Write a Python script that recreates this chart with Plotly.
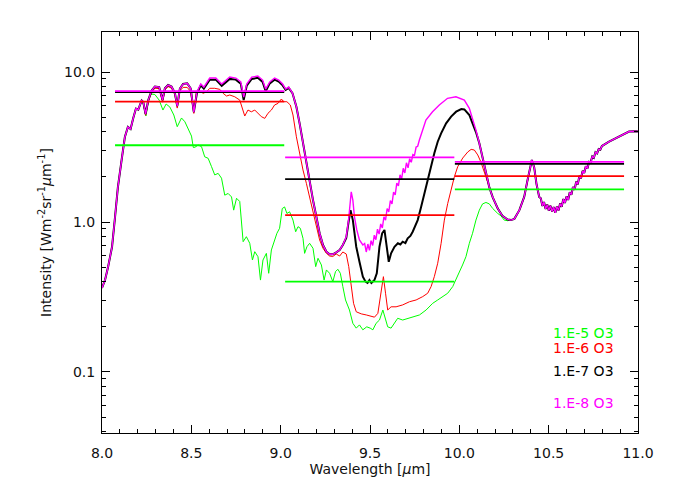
import plotly.graph_objects as go

# ---------------- data (wavelength in micron, intensity in W m-2 sr-1 um-1) ----------------
RISE_WL = [8.000, 8.017, 8.034, 8.056, 8.073, 8.089, 8.112, 8.128, 8.145, 8.160, 8.175, 8.190, 8.203]
RISE_INT = [0.363, 0.410, 0.501, 0.681, 1.08, 1.71, 2.71, 3.69, 4.30, 4.17, 4.94, 5.71, 5.62]

TOP_WL = [8.222, 8.231, 8.244, 8.259, 8.278, 8.296, 8.320, 8.339, 8.352, 8.370,
          8.389, 8.408, 8.421, 8.436, 8.454, 8.477, 8.496, 8.514, 8.531, 8.553,
          8.570, 8.603, 8.637, 8.670, 8.715, 8.749, 8.777, 8.793, 8.810, 8.838,
          8.872, 8.899, 8.916, 8.939, 8.966, 8.989, 9.011, 9.028, 9.045]
MAG_TOP_INT = [6.46, 6.31, 5.25, 6.50, 7.53, 8.00, 7.94, 6.50, 7.79, 8.19,
               8.00, 7.24, 5.93, 7.76, 8.32, 8.41, 7.79, 5.41, 7.36, 8.32,
               7.94, 9.12, 9.12, 8.32, 9.26, 9.12, 8.58, 6.81, 8.32, 9.26,
               9.40, 8.84, 7.70, 8.58, 9.12, 8.84, 8.32, 7.70, 7.94]
BLK_TOP_INT = [6.46, 6.31, 5.25, 6.50, 7.53, 8.00, 7.94, 6.50, 7.79, 8.19,
               8.00, 7.24, 5.93, 7.76, 8.32, 8.41, 7.79, 5.41, 7.20, 8.15,
               7.75, 8.90, 8.90, 8.10, 9.00, 8.90, 8.35, 6.50, 8.10, 9.00,
               9.15, 8.60, 7.45, 8.40, 8.90, 8.65, 8.15, 7.60, 7.85]

DESC_WL = [9.066, 9.088, 9.106, 9.125, 9.144, 9.162, 9.181, 9.200, 9.218, 9.237,
           9.256, 9.274, 9.292, 9.311, 9.330, 9.348]
DESC_INT = [7.24, 5.87, 4.55, 3.35, 2.46, 1.91, 1.40, 1.08, 0.841, 0.703,
            0.634, 0.609, 0.609, 0.628, 0.651, 0.703]

MAG_MID_WL = [9.367, 9.380, 9.389, 9.395, 9.404, 9.413, 9.426, 9.441, 9.460,
              9.470, 9.479, 9.488, 9.497, 9.506, 9.515, 9.524, 9.533, 9.542, 9.551,
              9.560, 9.569, 9.578, 9.587, 9.596, 9.605, 9.614, 9.623, 9.632, 9.641,
              9.650, 9.659, 9.668, 9.677, 9.686, 9.695, 9.704, 9.713, 9.722, 9.731,
              9.740, 9.749, 9.758, 9.767, 9.776,
              9.813, 9.850, 9.888, 9.934, 9.981, 10.009, 10.028, 10.056, 10.074, 10.093]
MAG_MID_INT = [0.798, 1.03, 1.33, 1.59, 1.40, 1.08, 0.885, 0.759, 0.703,
               0.719, 0.631, 0.713, 0.647, 0.750, 0.697, 0.817, 0.762, 0.895, 0.830,
               0.971, 0.912, 1.084, 1.028, 1.230, 1.169, 1.390, 1.318, 1.585, 1.514,
               1.820, 1.738, 2.065, 1.936, 2.280, 2.123, 2.483, 2.296, 2.642, 2.500,
               2.818, 2.786, 3.162, 3.199, 3.51,
               4.79, 5.43, 6.03, 6.68, 6.84, 6.68, 6.50, 5.73, 4.91, 4.10]

BLK_MID_WL = [9.367, 9.380, 9.391, 9.404, 9.423, 9.441, 9.460, 9.475, 9.486, 9.497,
              9.508, 9.525, 9.538, 9.553, 9.568, 9.581, 9.594, 9.605, 9.618, 9.637,
              9.656, 9.670, 9.683, 9.698, 9.711, 9.726, 9.739, 9.767, 9.786, 9.804,
              9.823, 9.842, 9.860, 9.879, 9.898, 9.926, 9.954, 9.982, 10.011, 10.028,
              10.056, 10.074, 10.093]
BLK_MID_INT = [0.782, 1.00, 1.20, 1.03, 0.684, 0.543, 0.432, 0.400, 0.392, 0.410,
               0.392, 0.410, 0.455, 0.684, 0.841, 0.885, 0.684, 0.543, 0.618, 0.684,
               0.721, 0.708, 0.739, 0.724, 0.778, 0.807, 0.861, 1.03, 1.26, 1.55,
               1.91, 2.34, 2.87, 3.43, 3.90, 4.55, 5.04, 5.44, 5.67, 5.63,
               5.17, 4.55, 3.98]

TAIL_WL = [10.112, 10.130, 10.149, 10.168, 10.187, 10.215, 10.241, 10.270, 10.289, 10.308,
           10.336, 10.363, 10.382, 10.397, 10.406, 10.419, 10.432, 10.447, 10.456, 10.465,
           10.474, 10.483, 10.492, 10.501, 10.510, 10.519, 10.528, 10.537, 10.546, 10.555,
           10.564, 10.573, 10.582, 10.591, 10.600, 10.609, 10.618, 10.627, 10.636, 10.645,
           10.654, 10.663, 10.672, 10.681, 10.690, 10.699, 10.708, 10.717, 10.726, 10.735,
           10.744, 10.753, 10.762, 10.771, 10.780, 10.789, 10.798, 10.838, 10.876, 10.913,
           10.950, 10.987, 11.000]
TAIL_INT = [3.35, 2.67, 2.09, 1.70, 1.46, 1.23, 1.10, 1.04, 1.03, 1.05,
            1.20, 1.47, 1.91, 2.34, 2.59, 2.31, 1.79, 1.47, 1.439, 1.279,
            1.358, 1.222, 1.306, 1.191, 1.285, 1.175, 1.259, 1.153, 1.268, 1.194,
            1.327, 1.265, 1.422, 1.340, 1.479, 1.403, 1.578, 1.521, 1.710, 1.641,
            1.854, 1.786, 2.032, 1.959, 2.193, 2.123, 2.355, 2.275, 2.523, 2.500,
            2.735, 2.679, 2.917, 2.864, 3.062, 3.034, 3.21, 3.43, 3.63, 3.83,
            4.01, 4.03, 4.01]

RED_WL = [8.222, 8.231, 8.244, 8.259, 8.278, 8.296, 8.320, 8.339, 8.352, 8.370,
          8.389, 8.408, 8.421, 8.436, 8.454, 8.477, 8.496, 8.514,
          8.528, 8.547, 8.566, 8.585, 8.603, 8.631, 8.659, 8.678, 8.697, 8.715,
          8.743, 8.771, 8.786, 8.799, 8.817, 8.836, 8.855, 8.873, 8.892, 8.911,
          8.929, 8.948, 8.966, 8.985, 9.004, 9.017, 9.035, 9.054, 9.069, 9.088,
          9.106, 9.125, 9.144, 9.162, 9.181, 9.200, 9.218, 9.237, 9.256, 9.274,
          9.292, 9.311, 9.330, 9.348, 9.367, 9.381, 9.395, 9.408, 9.423, 9.451,
          9.479, 9.507, 9.525, 9.544, 9.563, 9.575, 9.587, 9.599, 9.618, 9.646,
          9.683, 9.721, 9.758, 9.795, 9.823, 9.842, 9.860, 9.879, 9.898, 9.916,
          9.935, 9.954, 9.972, 9.991, 10.019, 10.047, 10.066, 10.084, 10.103, 10.121,
          10.140, 10.154]
RED_INT = [6.40, 6.20, 5.15, 6.35, 7.35, 7.80, 7.75, 6.30, 7.60, 8.00,
           7.80, 7.05, 5.75, 7.50, 7.90, 7.90, 7.40, 5.30,
           7.36, 7.50, 7.21, 7.39, 7.79, 7.79, 7.67, 7.21, 6.92, 7.03,
           6.84, 6.50, 5.58, 5.09, 5.58, 5.43, 5.58, 5.31, 5.04, 4.91,
           5.31, 5.58, 6.03, 6.18, 6.61, 6.34, 6.34, 6.03, 5.17, 3.70,
           2.87, 2.22, 1.81, 1.47, 1.14, 0.931, 0.759, 0.668, 0.618, 0.593,
           0.589, 0.612, 0.593, 0.631, 0.612, 0.504, 0.371, 0.287, 0.252, 0.244,
           0.240, 0.234, 0.232, 0.246, 0.335, 0.432, 0.335, 0.259, 0.272, 0.272,
           0.280, 0.294, 0.302, 0.318, 0.335, 0.371, 0.432, 0.531, 0.721, 1.03,
           1.33, 1.63, 2.00, 2.34, 2.67, 2.93, 3.05, 3.02, 2.80, 2.51,
           2.15, 1.89]

GRN_WL = [8.222, 8.231, 8.246, 8.264, 8.279, 8.296, 8.320, 8.341, 8.359, 8.380,
          8.402, 8.421, 8.445, 8.464, 8.482, 8.501, 8.511, 8.520, 8.538, 8.557,
          8.575, 8.594, 8.613, 8.631, 8.650, 8.669, 8.687, 8.706, 8.725, 8.737,
          8.753, 8.771, 8.790, 8.808, 8.827, 8.842, 8.855, 8.873, 8.887, 8.901,
          8.920, 8.933, 8.948, 8.966, 8.979, 8.994, 9.009, 9.022, 9.035, 9.050,
          9.069, 9.084, 9.097, 9.110, 9.125, 9.134, 9.147, 9.162, 9.181, 9.196,
          9.209, 9.228, 9.243, 9.256, 9.274, 9.292, 9.307, 9.320, 9.334, 9.348,
          9.363, 9.385, 9.404, 9.423, 9.441, 9.460, 9.482, 9.501, 9.516, 9.534,
          9.553, 9.572, 9.587, 9.599, 9.618, 9.637, 9.655, 9.683, 9.711, 9.739,
          9.777, 9.814, 9.851, 9.879, 9.907, 9.935, 9.963, 9.982, 10.000, 10.018,
          10.037, 10.056, 10.074, 10.093, 10.112, 10.130, 10.149, 10.168, 10.187, 10.215,
          10.233, 10.251, 10.270]
GRN_INT = [6.41, 6.12, 5.09, 6.81, 7.13, 7.08, 6.50, 5.58, 6.12, 5.84,
           5.17, 4.32, 4.94, 4.66, 4.22, 3.74, 3.14, 3.15, 3.26, 3.18,
           2.72, 2.66, 2.34, 2.06, 2.11, 1.96, 1.51, 1.55, 1.47, 1.20,
           1.44, 1.37, 0.739, 0.798, 0.721, 0.558, 0.634, 0.587, 0.410, 0.558,
           0.618, 0.455, 0.651, 0.759, 0.841, 0.908, 1.23, 1.26, 1.14, 1.17,
           1.03, 0.861, 0.931, 0.908, 0.778, 0.618, 0.684, 0.721, 0.668, 0.504,
           0.573, 0.517, 0.410, 0.479, 0.455, 0.400, 0.467, 0.484, 0.455, 0.371,
           0.302, 0.259, 0.211, 0.196, 0.206, 0.191, 0.200, 0.196, 0.191, 0.211,
           0.222, 0.259, 0.222, 0.200, 0.196, 0.211, 0.228, 0.222, 0.228, 0.234,
           0.240, 0.259, 0.287, 0.302, 0.318, 0.335, 0.371, 0.422, 0.464, 0.517,
           0.587, 0.721, 0.841, 1.03, 1.20, 1.32, 1.35, 1.32, 1.23, 1.14,
           1.10, 1.03, 1.02]

# band-averaged intensities
BAND_START = [8.073, 9.025, 9.975]
BAND_END = [9.020, 9.972, 10.922]
BAND_G = [3.25, 0.40, 1.65]
BAND_R = [6.34, 1.11, 2.02]
BAND_K = [7.36, 1.93, 2.44]
BAND_M = [7.47, 2.70, 2.52]

LABELS = ["1.E-5 O3", "1.E-6 O3", "1.E-7 O3", "1.E-8 O3"]
COLORS = ["#00ff00", "#ff0000", "#000000", "#ff00ff"]

X_TICKS = [8.0, 8.5, 9.0, 9.5, 10.0, 10.5, 11.0]
X_TICKTEXT = ["8.0", "8.5", "9.0", "9.5", "10.0", "10.5", "11.0"]
Y_TICKS = [0.1, 1.0, 10.0]
Y_TICKTEXT = ["0.1", "1.0", "10.0"]
Y_MINOR = [0.04, 0.05, 0.06, 0.07, 0.08, 0.09,
           0.2, 0.3, 0.4, 0.5, 0.6, 0.7, 0.8, 0.9,
           2, 3, 4, 5, 6, 7, 8, 9]

# ---------------- assemble spectra from shared segments ----------------
def tail_from(start):
    pairs = [(w, v) for w, v in zip(TAIL_WL, TAIL_INT) if w >= start - 1e-9]
    return [p[0] for p in pairs], [p[1] for p in pairs]

mag_x = RISE_WL + TOP_WL + DESC_WL + MAG_MID_WL + TAIL_WL
mag_y = RISE_INT + MAG_TOP_INT + DESC_INT + MAG_MID_INT + TAIL_INT
blk_x = RISE_WL + TOP_WL + DESC_WL + BLK_MID_WL + TAIL_WL
blk_y = RISE_INT + BLK_TOP_INT + DESC_INT + BLK_MID_INT + TAIL_INT
tx, ty = tail_from(10.168)
red_x = RISE_WL + RED_WL + tx
red_y = RISE_INT + RED_INT + ty
tx, ty = tail_from(10.289)
grn_x = RISE_WL + GRN_WL + tx
grn_y = RISE_INT + GRN_INT + ty

fig = go.Figure()

series = [(grn_x, grn_y, BAND_G, 1.0), (red_x, red_y, BAND_R, 1.0),
          (blk_x, blk_y, BAND_K, 2.0), (mag_x, mag_y, BAND_M, 1.4)]

for (xs, ys, band, w), col in zip(series, COLORS):
    fig.add_trace(go.Scatter(x=xs, y=ys, mode="lines",
                             line=dict(color=col, width=w), hoverinfo="skip"))
for (xs, ys, band, w), col in zip(series, COLORS):
    for b0, b1, v in zip(BAND_START, BAND_END, band):
        fig.add_trace(go.Scatter(x=[b0, b1], y=[v, v], mode="lines",
                                 line=dict(color=col, width=1.8), hoverinfo="skip"))

legend_y = [0.250, 0.211, 0.155, 0.074]
for lab, col, yy in zip(LABELS, COLORS, legend_y):
    fig.add_annotation(text=lab, x=0.837, y=yy, xref="paper", yref="paper",
                       xanchor="left", yanchor="middle", showarrow=False,
                       font=dict(color=col, size=14, family="DejaVu Sans"))

fig.update_layout(
    width=700, height=500,
    margin=dict(l=94, r=70, t=24, b=75),
    plot_bgcolor="white", paper_bgcolor="white",
    showlegend=False,
    font=dict(family="DejaVu Sans", size=14, color="#111111"),
)
fig.update_xaxes(
    range=[8, 11], tickvals=X_TICKS, ticktext=X_TICKTEXT,
    ticks="inside", ticklen=8, tickcolor="black", tickwidth=1,
    showline=True, linecolor="black", linewidth=1, mirror="ticks",
    showgrid=False, zeroline=False, ticklabelstandoff=7,
    minor=dict(dtick=0.1, ticks="inside", ticklen=4, tickcolor="black", showgrid=False),
    title=dict(text="Wavelength [<i>μ</i>m]", standoff=3, font=dict(size=14)),
)
fig.update_yaxes(
    type="log", range=[-1.407, 1.267], tickvals=Y_TICKS, ticktext=Y_TICKTEXT,
    ticks="inside", ticklen=8, tickcolor="black", tickwidth=1,
    showline=True, linecolor="black", linewidth=1, mirror="ticks",
    showgrid=False, zeroline=False, ticklabelstandoff=3,
    minor=dict(tickvals=Y_MINOR, ticks="inside", ticklen=4, tickcolor="black", showgrid=False),
    title=dict(text="Intensity [Wm<sup>-2</sup>sr<sup>-1</sup><i>μ</i>m<sup>-1</sup>]",
               standoff=9, font=dict(size=14)),
)

fig.write_html("out.html")
